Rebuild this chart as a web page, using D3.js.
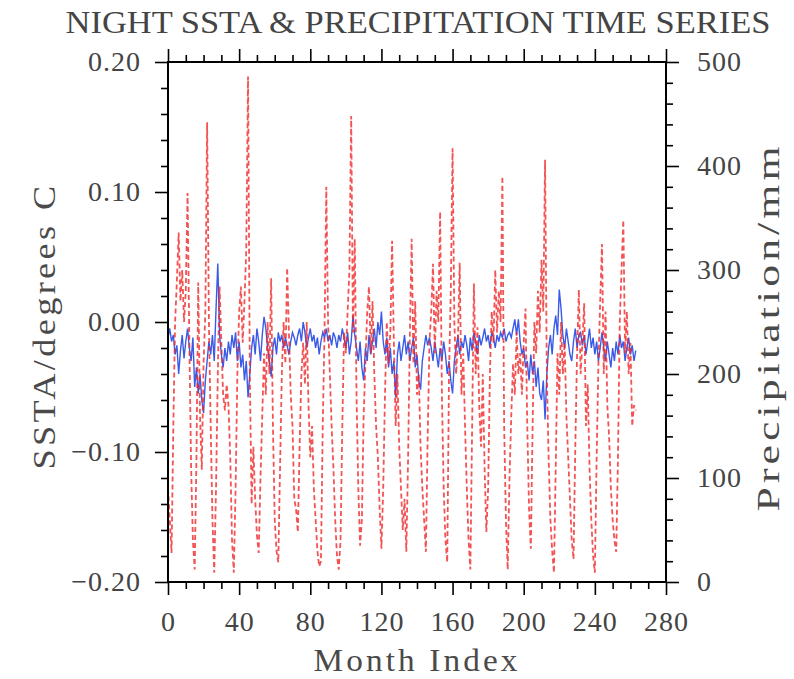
<!DOCTYPE html>
<html>
<head>
<meta charset="utf-8">
<script src="https://cdn.jsdelivr.net/npm/d3@7"></script>
<style>
  body { margin: 0; background: #fff; }
  text { font-family: "Liberation Serif", "DejaVu Serif", serif; fill: #444; }
  .atitle { fill: #4a4a4a; letter-spacing: 3px; }
</style>
</head>
<body>
<svg width="794" height="679"></svg>
<script>
// month index runs 0..263
var nMonths = 264;

// night SSTA (degrees C), left axis
var ssta = [
  -0.012,-0.005,-0.015,-0.010,-0.025,-0.018,-0.040,-0.022,-0.010,-0.028,-0.015,-0.005,
  -0.020,-0.030,-0.012,-0.050,-0.035,-0.055,-0.040,-0.060,-0.070,-0.045,-0.030,-0.015,
  -0.025,-0.010,-0.030, 0.010, 0.045,-0.010,-0.025,-0.035,-0.020,-0.030,-0.015,-0.025,
  -0.010,-0.020,-0.008,-0.030,-0.015,-0.035,-0.025,-0.045,-0.030,-0.058,-0.040,-0.020,
  -0.010,-0.025,-0.005,-0.015,-0.030,-0.010, 0.004,-0.005,-0.020,-0.030,-0.042,-0.020,
  -0.012,-0.025,-0.008,-0.015,-0.010,-0.020,-0.012,-0.018,-0.025,-0.015,-0.008,-0.012,
  -0.018,-0.010,-0.005,-0.015, 0.000,-0.008,-0.020,-0.012,-0.005,-0.015,-0.010,-0.020,
  -0.012,-0.025,-0.015,-0.008,-0.012,-0.005,-0.015,-0.010,-0.018,-0.008,-0.012,-0.020,
  -0.010,-0.015,-0.005,-0.012,-0.020,-0.008,-0.025,-0.015, 0.005,-0.010,-0.020,-0.030,
  -0.015,-0.035,-0.045,-0.020,-0.030,-0.010,-0.025,-0.015,-0.005,-0.020, 0.000,-0.010,
   0.008,-0.015,-0.025,-0.012,-0.035,-0.020,-0.040,-0.030,-0.058,-0.025,-0.015,-0.030,
  -0.020,-0.010,-0.025,-0.015,-0.030,-0.020,-0.012,-0.035,-0.025,-0.045,-0.052,-0.030,
  -0.020,-0.010,-0.018,-0.012,-0.020,-0.030,-0.015,-0.025,-0.035,-0.020,-0.030,-0.015,
  -0.025,-0.040,-0.030,-0.045,-0.055,-0.030,-0.020,-0.010,-0.025,-0.015,-0.020,-0.010,
  -0.018,-0.030,-0.012,-0.022,-0.008,-0.015,-0.025,-0.010,-0.018,-0.012,-0.005,-0.015,
  -0.010,-0.020,-0.008,-0.012,-0.020,-0.010,-0.015,-0.008,-0.012,-0.005,-0.015,-0.010,
  -0.008,-0.012,-0.005, 0.002,-0.010, 0.002,-0.015,-0.025,-0.020,-0.035,-0.030,-0.045,
  -0.025,-0.040,-0.030,-0.050,-0.035,-0.055,-0.060,-0.045,-0.075,-0.040,-0.020,-0.010,
  -0.025,-0.005, 0.005,-0.010, 0.025, 0.010,-0.010,-0.020,-0.005,-0.015,-0.025,-0.030,
  -0.015,-0.005,-0.020,-0.010,-0.008,-0.018,-0.010,-0.025,-0.015,-0.005,-0.020,-0.012,
  -0.025,-0.015,-0.030,-0.020,-0.008,-0.020,-0.030,-0.015,-0.025,-0.035,-0.020,-0.030,
  -0.015,-0.025,-0.010,-0.020,-0.015,-0.030,-0.020,-0.012,-0.025,-0.018,-0.030,-0.022
];

// precipitation (mm), right axis
var precip = [
   90, 60, 28,150,250,290,336,270,300,250,280,374,
  230,110, 40, 12,120,288,160,108,210,260,442,250,
  150, 60,  9, 90,200,284,230,180,165,190,170,120,
   40,  9, 90,200,260,284,230,270,320,486,200, 75,
  130, 80, 45, 28,100,160,220,180,250,200,292,150,
   60, 30, 19,110,200,250,210,302,240,180,150, 80,
   70, 48,130,200,230,190,250,170,120,150, 90, 60,
   30, 15, 20,150,240,380,250,200,150,110, 60, 25,
   12, 40,150,240,220,260,300,448,240,330,180, 90,
   35, 60,160,210,260,284,220,270,200,150,120, 70,
   32, 90,180,250,210,240,328,230,150,200,130, 90,
   50, 80, 29,120,240,330,210,270,180,200,130, 90,
   60, 29,140,230,260,306,220,280,250,356,180, 90,
   40, 19,200,280,417,250,200,230,307,180,220,150,
   90, 40, 12,150,287,200,245,170,130,200,110, 48,
   90,200,260,230,300,240,280,250,390,150, 60, 12,
  100,160,210,180,240,200,220,180,230,263,150, 70,
   32,150,250,220,280,240,310,260,406,200,120, 60,
   30,  9,110,220,180,250,200,230,160,120, 80, 40,
   22,130,220,281,200,230,268,150,190,110, 60, 25,
    9,120,210,270,325,200,260,170,140, 90, 60, 40,
   29,120,250,300,348,220,260,200,230,150,170,165
];

var xTicks = [0, 40, 80, 120, 160, 200, 240, 280];
var leftTicks = [-0.2, -0.1, 0, 0.1, 0.2];
var rightTicks = [0, 100, 200, 300, 400, 500];

var months = d3.range(nMonths);

var svg = d3.select("svg"),
    box = {x0: 168, x1: 666, y0: 62, y1: 582};

var x = d3.scaleLinear().domain([0, 280]).range([box.x0, box.x1]);
var yL = d3.scaleLinear().domain([-0.2, 0.2]).range([box.y1, box.y0]);
var yR = d3.scaleLinear().domain([0, 500]).range([box.y1, box.y0]);

var majorLen = 13, minorLen = 7;

function styleAxis(g) {
    g.select(".domain").remove();
    g.selectAll(".tick line").attr("stroke", "#000").attr("stroke-width", 1.6);
    g.selectAll("text").attr("fill", "#444").style("font-size", "28px")
        .style("letter-spacing", "1px")
        .style("font-family", "'Liberation Serif', serif");
}

// minor ticks
var xMinor = d3.range(0, 281, 10).filter(function(v){ return v % 40 != 0; });
var lMinor = d3.range(-20, 21, 2).filter(function(v){ return v % 10 != 0; }).map(function(v){ return v/100; });
var rMinor = d3.range(0, 501, 20).filter(function(v){ return v % 100 != 0; });

svg.append("g").attr("transform", "translate(0," + box.y1 + ")")
    .call(d3.axisBottom(x).tickValues(xMinor).tickSize(minorLen).tickFormat("")).call(styleAxis);
svg.append("g").attr("transform", "translate(0," + box.y0 + ")")
    .call(d3.axisTop(x).tickValues(xMinor).tickSize(minorLen).tickFormat("")).call(styleAxis);
svg.append("g").attr("transform", "translate(" + box.x0 + ",0)")
    .call(d3.axisLeft(yL).tickValues(lMinor).tickSize(minorLen).tickFormat("")).call(styleAxis);
svg.append("g").attr("transform", "translate(" + box.x1 + ",0)")
    .call(d3.axisRight(yR).tickValues(rMinor).tickSize(minorLen).tickFormat("")).call(styleAxis);

// major ticks + labels
svg.append("g").attr("transform", "translate(0," + box.y1 + ")")
    .call(d3.axisBottom(x).tickValues(xTicks).tickSize(majorLen).tickPadding(16).tickFormat(d3.format("d")))
    .call(styleAxis);
svg.append("g").attr("transform", "translate(0," + box.y0 + ")")
    .call(d3.axisTop(x).tickValues(xTicks).tickSize(majorLen).tickFormat("")).call(styleAxis);
svg.append("g").attr("transform", "translate(" + box.x0 + ",0)")
    .call(d3.axisLeft(yL).tickValues(leftTicks).tickSize(majorLen).tickPadding(14).tickFormat(d3.format(".2f")))
    .call(styleAxis);
svg.append("g").attr("transform", "translate(" + box.x1 + ",0)")
    .call(d3.axisRight(yR).tickValues(rightTicks).tickSize(majorLen).tickPadding(18).tickFormat(d3.format("d")))
    .call(styleAxis);

// series
var lineL = d3.line().x(function(d, i){ return x(months[i]); }).y(function(d){ return yL(d); });
var lineR = d3.line().x(function(d, i){ return x(months[i]); }).y(function(d){ return yR(d); });

svg.append("path").datum(ssta)
    .attr("d", lineL)
    .attr("fill", "none")
    .attr("stroke", "#3a5ae8")
    .attr("stroke-width", 1.4);

svg.append("path").datum(precip)
    .attr("d", lineR)
    .attr("fill", "none")
    .attr("stroke", "#f02828")
    .attr("stroke-opacity", 0.8)
    .attr("stroke-width", 1.8)
    .attr("stroke-dasharray", "5,3");

// frame
svg.append("rect")
    .attr("x", box.x0).attr("y", box.y0)
    .attr("width", box.x1 - box.x0).attr("height", box.y1 - box.y0)
    .attr("fill", "none").attr("stroke", "#000").attr("stroke-width", 2);

// titles
svg.append("text")
    .attr("x", 418).attr("y", 33)
    .attr("text-anchor", "middle")
    .style("font-size", "31px")
    .attr("textLength", 705).attr("lengthAdjust", "spacingAndGlyphs")
    .text("NIGHT SSTA & PRECIPITATION TIME SERIES");

svg.append("text").attr("class", "atitle")
    .attr("x", 417).attr("y", 671)
    .attr("text-anchor", "middle")
    .style("font-size", "32px")
    .attr("textLength", 207).attr("lengthAdjust", "spacingAndGlyphs")
    .text("Month Index");

svg.append("text").attr("class", "atitle")
    .attr("transform", "translate(55,326) rotate(-90)")
    .attr("text-anchor", "middle")
    .style("font-size", "32px")
    .attr("textLength", 287).attr("lengthAdjust", "spacingAndGlyphs")
    .text("SSTA/degrees C");

svg.append("text").attr("class", "atitle")
    .attr("transform", "translate(779,327) rotate(-90)")
    .attr("text-anchor", "middle")
    .style("font-size", "32px")
    .attr("textLength", 369).attr("lengthAdjust", "spacingAndGlyphs")
    .text("Precipitation/mm");
</script>
</body>
</html>
